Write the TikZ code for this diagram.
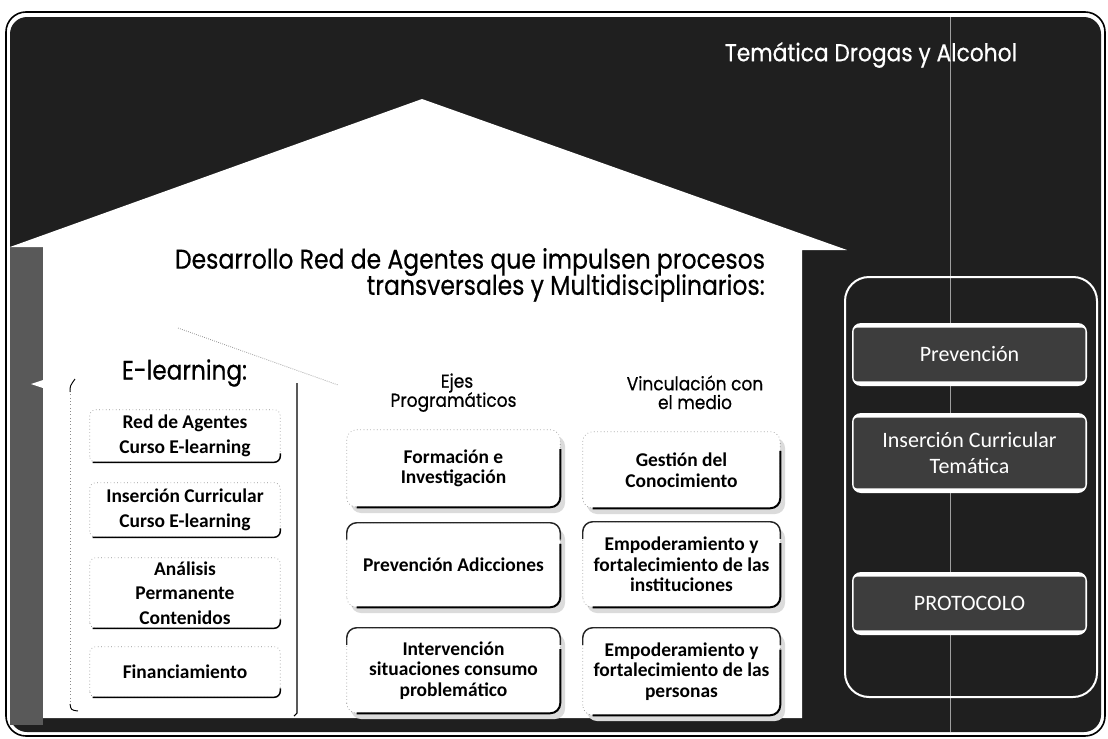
\documentclass[tikz,border=0pt]{standalone}
\usepackage{fontspec}
\usepackage{graphicx}
\setmainfont{Carlito}
\newfontfamily\gothic[FakeBold=0.6]{Poppins}
\newfontfamily\calib{Carlito}
\usetikzlibrary{calc}
\newdimen\px \px=0.75pt
\newlength\hdw
% heading scale: id, target width (px), vertical factor, reference text
\newcommand\hdfit[4]{%
  \settowidth\hdw{\gothic #4}%
  \pgfmathsetmacro\hdtmpa{#2*0.75/\hdw}%
  \pgfmathsetmacro\hdtmpb{\hdtmpa*#3}%
  \expandafter\xdef\csname hdh#1\endcsname{\hdtmpa}%
  \expandafter\xdef\csname hdv#1\endcsname{\hdtmpb}%
}
\newcommand\hd[2]{\scalebox{\csname hdh#1\endcsname}[\csname hdv#1\endcsname]{#2}}
% left-column box: name, cx, cy, w, h, text
\newcommand\myLbox[6]{%
  \node[lboxnode, minimum width=#4\px, minimum height=#5\px] (#1) at (#2,#3) {#6};
  \draw[faintedge, rounded corners=6\px] (#1.south west) rectangle (#1.north east);
  \draw[lbottom, rounded corners=6\px] ([xshift=3\px]#1.south west) -- (#1.south east) -- ([yshift=9\px]#1.south east);
}
% middle/right box: name, cx, cy, w, h, dark top (0/1), text
\newcommand\myRbox[7]{%
  \fill[shadowfill] ({#2-#4/2+4},{#3-#5/2+6}) rectangle ({#2+#4/2+5},{#3+#5/2+6});
  \node[rboxnode, minimum width=#4\px, minimum height=#5\px] (#1) at (#2,#3) {#7};
  \draw[faintedge, rounded corners=10\px] (#1.south west) rectangle (#1.north east);
  \draw[redge, rounded corners=10\px] ([xshift=10\px]#1.south west) -- (#1.south east) -- ($(#1.south east)!0.75!(#1.north east)$);
  \ifnum#6=1
    \draw[tedge, rounded corners=10\px] ($(#1.north west)!0.2!(#1.south west)$) -- (#1.north west) -- (#1.north east) -- ($(#1.north east)!0.2!(#1.south east)$);
  \fi
}
\begin{document}
\hdfit{A}{292}{1.12}{Temática Drogas y Alcohol}%
\hdfit{B}{590}{1.15}{Desarrollo Red de Agentes que impulsen procesos}%
\hdfit{C}{125}{1.15}{E-learning:}%
\hdfit{D}{126}{1.1}{Programáticos}%
\begin{tikzpicture}[x=0.75pt,y=-0.75pt,
  heading/.style={font=\gothic, inner sep=0pt, anchor=center},
  faintedge/.style={draw=black!45, line width=0.5pt, dotted},
  lbottom/.style={draw=black, line width=1.1pt},
  redge/.style={draw=black, line width=1.5pt},
  tedge/.style={draw=black!85, line width=1.1pt},
  lboxnode/.style={inner sep=0pt, fill=white, align=center, font=\calib\bfseries\fontsize{14.6}{18.5}\selectfont},
  rboxnode/.style={inner sep=0pt, fill=white, rounded corners=10\px, align=center, font=\calib\bfseries\fontsize{14.6}{15.4}\selectfont},
  shadowfill/.style={fill=black!14, rounded corners=10\px},
  panelframe/.style={draw=white, line width=1.5pt, rounded corners=24\px, inner sep=0pt},
  barouter/.style={fill=white, rounded corners=9\px, inner sep=0pt},
  bardark/.style={fill=black!76},
  bartext/.style={text=white, align=center, font=\calib\fontsize{16.5}{19.5}\selectfont, inner sep=0pt},
  bgdark/.style={fill=black!88},
]
\path[use as bounding box] (0,0) rectangle (1108,739);
\fill[white] (0,0) rectangle (1108,739);
% outer frame
\draw[black, line width=1.2pt, rounded corners=20\px] (6,12) rectangle (1105,736);
\fill[bgdark, rounded corners=17\px] (10,17) rectangle (1101,732);
\fill[black!65] (10,247) rectangle (43,725);
% scan line
\draw[gray!75, line width=0.6pt] (950,17) -- (950,732);
% title
\node[heading, text=white] (title) at (871,55) {\hd{A}{Temática Drogas y Alcohol}};
% house
\fill[white] (422,99) -- (847,250) -- (802,250) -- (802,718) -- (43,718) -- (43,247) -- (10,247) -- cycle;
\fill[white] (43,380) -- (31,384) -- (43,388) -- cycle;
% headings
\node[heading] (des1) at (470,262) {\hd{B}{Desarrollo Red de Agentes que impulsen procesos}};
\node[heading, anchor=east] (des2) at (765,288) {\hd{B}{transversales y Multidisciplinarios:}};
\node[heading] (elearn) at (184.5,373) {\hd{C}{E-learning:}};
\node[heading] (ejes1) at (457,383) {\hd{D}{Ejes}};
\node[heading] (ejes2) at (453.5,402) {\hd{D}{Programáticos}};
\node[heading] (vinc1) at (695,383) {\hd{D}{Vinculación con}};
\node[heading] (vinc2) at (695,402) {\hd{D}{el medio}};
% E-learning group outline
\coordinate (gA) at (178,328);
\coordinate (gB) at (338,385);
\draw[black!40, line width=0.6pt, densely dotted] (gA) -- (gB);
\coordinate (gTL) at (70,383);
\coordinate (gBL) at (70,712);
\coordinate (gTR) at (297,383);
\coordinate (gBR) at (297,713);
\draw[faintedge] ([yshift=-8\px]gTL) -- ([yshift=8\px]gBL);
\draw[black, line width=0.7pt] (70,392) .. controls (70,386) .. (75,379);
\draw[black, line width=0.7pt] (70,704) .. controls (71,710) .. (78,711);
\draw[black, line width=0.8pt] (gTR) -- (gBR) -- ++(-3,3);
% left column boxes
\myLbox{L1}{185}{436}{190}{52}{Red de Agentes\\Curso E-learning}
\myLbox{L2}{185}{510}{190}{54}{Inserción Curricular\\Curso E-learning}
\myLbox{L3}{185}{593}{190}{70}{Análisis\\Permanente\\Contenidos}
\myLbox{L4}{185}{672}{190}{50}{Financiamiento}
% middle column
\myRbox{M1}{453.5}{468.5}{213}{77}{0}{Formación e\\Investigación}
\myRbox{M2}{453.5}{565}{213}{84}{1}{Prevención Adicciones}
\myRbox{M3}{453.5}{670.5}{213}{85}{1}{Intervención\\situaciones consumo\\problemático}
% right column
\myRbox{R1}{681.5}{470}{197}{76}{0}{Gestión del\\Conocimiento}
\myRbox{R2}{681.5}{564.5}{197}{85}{1}{Empoderamiento y\\fortalecimiento de las\\instituciones}
\myRbox{R3}{681.5}{671.5}{197}{87}{1}{Empoderamiento y\\fortalecimiento de las\\personas}
% right panel
\node[panelframe, minimum width=252\px, minimum height=420\px] (panel) at (971,487) {};
\node[barouter, minimum width=235\px, minimum height=63\px] (b1) at (969.5,354.5) {};
\fill[bardark, rounded corners=3\px] ([xshift=2\px,yshift=-5\px]b1.north west) rectangle ([xshift=-2\px,yshift=5\px]b1.south east);
\node[bartext] (b1t) at (b1) {Prevención};
\node[barouter, minimum width=235\px, minimum height=80\px] (b2) at (969.5,453) {};
\fill[bardark, rounded corners=3\px] ([xshift=2\px,yshift=-5\px]b2.north west) rectangle ([xshift=-2\px,yshift=5\px]b2.south east);
\node[bartext] (b2t) at (b2) {Inserción Curricular\\Temática};
\node[barouter, minimum width=235\px, minimum height=63\px] (b3) at (969.5,603.5) {};
\fill[bardark, rounded corners=3\px] ([xshift=2\px,yshift=-5\px]b3.north west) rectangle ([xshift=-2\px,yshift=5\px]b3.south east);
\node[bartext] (b3t) at (b3) {PROTOCOLO};
\end{tikzpicture}
\end{document}
